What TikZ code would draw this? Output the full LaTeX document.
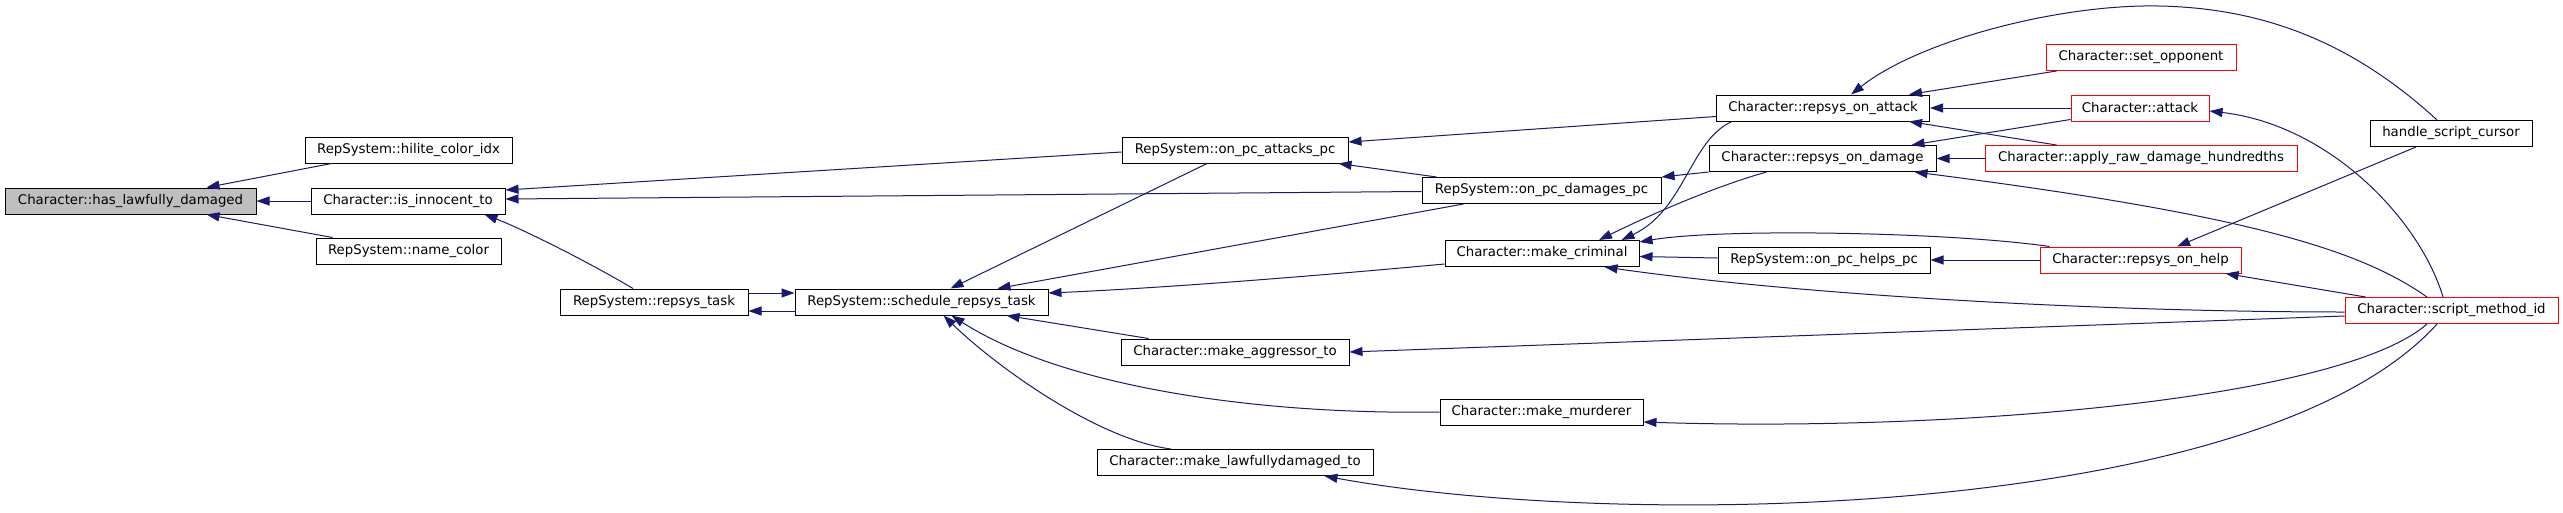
\documentclass[tikz,border=0pt]{standalone}
\usepackage{fontspec}
\setmainfont{DejaVu Sans}
\usetikzlibrary{arrows.meta}
\definecolor{edgec}{HTML}{191970}
\definecolor{hlgray}{HTML}{BFBFBF}
\begin{document}
\begin{tikzpicture}[x=1pt,y=-1pt,
  box/.style={draw=black, line width=1pt, fill=white, minimum height=26pt, inner sep=0pt, font=\fontsize{13.3}{16}\selectfont, text=black},
  redbox/.style={box, draw=red},
  edge/.style={draw=edgec, line width=1pt, -{Triangle[length=13pt,width=9pt]}},
]
\fill[white] (0,0) rectangle (2563,512);
\useasboundingbox (0,0) rectangle (2563,512);

\node[box, fill=hlgray, minimum width=251pt] (HLD) at (130.5,201) {Character::has\_lawfully\_damaged};
\node[box, minimum width=207pt] (HCI) at (408.5,150) {RepSystem::hilite\_color\_idx};
\node[box, minimum width=194pt] (IIT) at (408,201) {Character::is\_innocent\_to};
\node[box, minimum width=185pt] (NC) at (408.5,251) {RepSystem::name\_color};
\node[box, minimum width=188pt] (RT) at (654,302) {RepSystem::repsys\_task};
\node[box, minimum width=253pt] (SRT) at (921.5,302) {RepSystem::schedule\_repsys\_task};
\node[box, minimum width=226pt] (OPA) at (1235,150) {RepSystem::on\_pc\_attacks\_pc};
\node[box, minimum width=239pt] (OPD) at (1541.5,190.5) {RepSystem::on\_pc\_damages\_pc};
\node[box, minimum width=194pt] (MC) at (1542,253.5) {Character::make\_criminal};
\node[box, minimum width=228pt] (MAT) at (1235,352) {Character::make\_aggressor\_to};
\node[box, minimum width=203pt] (MM) at (1541.5,412) {Character::make\_murderer};
\node[box, minimum width=276pt] (MLT) at (1235,462.5) {Character::make\_lawfullydamaged\_to};
\node[box, minimum width=213pt] (ROA) at (1823,108) {Character::repsys\_on\_attack};
\node[box, minimum width=227pt] (ROD) at (1822.5,158.5) {Character::repsys\_on\_damage};
\node[box, minimum width=212pt] (OPH) at (1824,260) {RepSystem::on\_pc\_helps\_pc};
\node[redbox, minimum width=190pt] (SO) at (2141,57.5) {Character::set\_opponent};
\node[redbox, minimum width=138pt] (ATK) at (2140,108) {Character::attack};
\node[redbox, minimum width=312pt] (ARD) at (2141,158.5) {Character::apply\_raw\_damage\_hundredths};
\node[redbox, minimum width=201pt] (RH) at (2140.5,260) {Character::repsys\_on\_help};
\node[box, minimum width=162pt] (HSC) at (2451,133.5) {handle\_script\_cursor};
\node[redbox, minimum width=213pt] (SMI) at (2451.5,310.5) {Character::script\_method\_id};

\draw[edge] ([xshift=27pt]HCI.south west) -- ([xshift=76pt]HLD.north);
\draw[edge] (IIT.west) -- (HLD.east);
\draw[edge] ([xshift=17pt]NC.north west) -- ([xshift=76pt]HLD.south);
\draw[edge] ([yshift=-2pt]OPA.west) -- ([yshift=11pt]IIT.east);
\draw[edge] ([yshift=-1pt]OPD.west) -- ([yshift=2pt]IIT.east);
\draw[edge] ([xshift=-21pt]RT.north) .. controls (585,260) and (520,228) .. ([xshift=-21pt]IIT.south east);
\draw[edge] ([yshift=-9pt]SRT.west) -- ([yshift=-9pt]RT.east);
\draw[edge] ([yshift=9pt]RT.east) -- ([yshift=9pt]SRT.west);
\draw[edge] ([xshift=-28pt]OPA.south) -- ([xshift=29pt]SRT.north);
\draw[edge] ([xshift=42pt]OPD.south west) -- ([xshift=-51pt]SRT.north east);
\draw[edge] ([yshift=-10.5pt]MC.west) .. controls (1250,282) and (1120,290) .. ([yshift=9pt]SRT.east);
\draw[edge] ([xshift=28pt]MAT.north west) -- ([xshift=-42pt]SRT.south east);
\draw[edge] (MM.west) .. controls (1250,415) and (1060,385) .. ([xshift=30pt]SRT.south);
\draw[edge] ([xshift=-64pt]MLT.north) .. controls (1100,440) and (1000,370) .. ([xshift=22pt]SRT.south);
\draw[edge] ([yshift=-8.5pt]ROA.west) -- ([yshift=8pt]OPA.east);
\draw[edge] ([xshift=15pt]OPD.north west) -- ([xshift=-10pt]OPA.south east);
\draw[edge] (ROD.south west) -- (OPD.north east);
\draw[edge] ([xshift=16pt]ROA.south west) .. controls (1690,140) and (1685,210) .. ([xshift=-18pt]MC.north east);
\draw[edge] ([xshift=58pt]ROD.south west) .. controls (1720,185) and (1660,210) .. ([xshift=57pt]MC.north);
\draw[edge] ([xshift=10pt]RH.north west) .. controls (1950,232) and (1720,228) .. ([yshift=-2pt]MC.north east);
\draw[edge] ([yshift=2pt]OPH.west) -- ([yshift=-3pt]MC.east);
\draw[edge] ([yshift=-1.5pt]SMI.west) .. controls (2100,312) and (1800,295) .. ([xshift=-35pt]MC.south east);
\draw[edge] ([yshift=-5.5pt]SMI.west) -- (MAT.east);
\draw[edge] ([xshift=-24.5pt]SMI.south) .. controls (2340,400) and (1950,432) .. ([yshift=-10pt]MM.east);
\draw[edge] ([xshift=-14.5pt]SMI.south) .. controls (2260,520) and (1620,530) .. ([xshift=-49pt]MLT.south east);
\draw[edge] ([xshift=11pt]SO.south west) -- ([xshift=-21pt]ROA.north east);
\draw[edge] (ATK.west) -- (ROA.east);
\draw[edge] ([xshift=72pt]ARD.north west) -- ([xshift=-21pt]ROA.south east);
\draw[edge] ([yshift=2pt]ATK.south west) -- ([xshift=-25pt]ROD.north east);
\draw[edge] (ARD.west) -- (ROD.east);
\draw[edge] ([xshift=-24.5pt]SMI.north) .. controls (2360,250) and (2250,215) .. ([xshift=-22pt]ROD.south east);
\draw[edge] ([xshift=-8.5pt]SMI.north) .. controls (2420,220) and (2330,125) .. ([yshift=-3pt]ATK.east);
\draw[edge] ([xshift=-14pt]HSC.north) .. controls (2350,40) and (2260,8) .. (2159,6) .. controls (2060,4) and (1920,40) .. ([xshift=28pt]ROA.north);
\draw[edge] ([xshift=-35pt]HSC.south) -- ([xshift=36.5pt]RH.north);
\draw[edge] ([xshift=21pt]SMI.north west) -- ([xshift=-16pt]RH.south east);
\draw[edge] (RH.west) -- (OPH.east);
\end{tikzpicture}
\end{document}
